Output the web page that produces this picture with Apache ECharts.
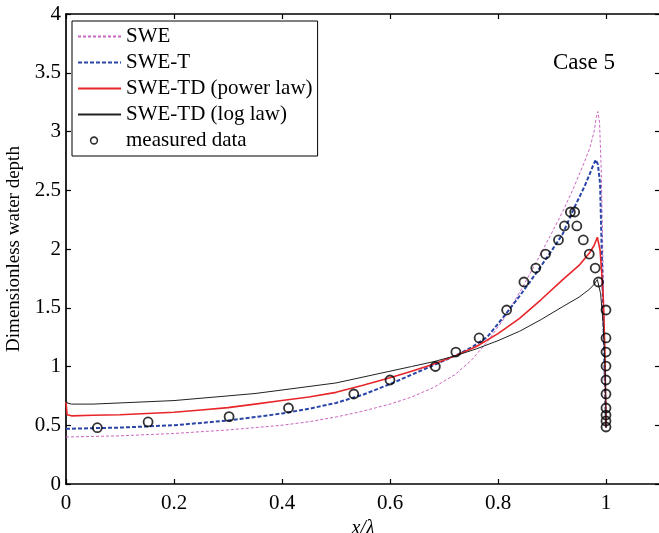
<!DOCTYPE html>
<html>
<head>
<meta charset="utf-8">
<script src="https://cdn.jsdelivr.net/npm/echarts/dist/echarts.min.js"></script>
<style>html,body{margin:0;padding:0;background:#fff}#c{width:659px;height:533px}</style>
</head>
<body>
<div id="c"></div>
<script>
// ---- data ----
const sweX = [0, 0.05, 0.1, 0.15, 0.2, 0.25, 0.3, 0.35, 0.4, 0.45, 0.5, 0.55, 0.6, 0.64, 0.68, 0.72, 0.75, 0.78, 0.81, 0.84, 0.87, 0.9, 0.92, 0.94, 0.96, 0.97, 0.978, 0.982, 0.985, 0.988, 0.991, 0.994, 0.997, 1.0];
const sweY = [0.40, 0.405, 0.41, 0.42, 0.43, 0.445, 0.46, 0.48, 0.50, 0.53, 0.57, 0.62, 0.68, 0.74, 0.82, 0.93, 1.05, 1.21, 1.40, 1.63, 1.88, 2.14, 2.32, 2.52, 2.74, 2.86, 3.00, 3.12, 3.17, 3.08, 2.70, 2.00, 1.20, 0.48];

const swetX = [0, 0.05, 0.1, 0.15, 0.2, 0.25, 0.3, 0.35, 0.4, 0.45, 0.5, 0.55, 0.6, 0.64, 0.68, 0.72, 0.75, 0.78, 0.81, 0.84, 0.87, 0.9, 0.92, 0.94, 0.96, 0.97, 0.976, 0.981, 0.985, 0.989, 0.992, 0.995, 0.998, 1.0];
const swetY = [0.47, 0.475, 0.48, 0.49, 0.50, 0.52, 0.54, 0.57, 0.60, 0.64, 0.69, 0.76, 0.85, 0.93, 1.01, 1.09, 1.16, 1.25, 1.42, 1.60, 1.79, 1.99, 2.13, 2.34, 2.53, 2.64, 2.71, 2.76, 2.72, 2.56, 2.00, 1.42, 0.85, 0.48];

const powX = [0, 0.002, 0.01, 0.05, 0.1, 0.15, 0.2, 0.25, 0.3, 0.35, 0.4, 0.45, 0.5, 0.55, 0.6, 0.64, 0.68, 0.72, 0.76, 0.8, 0.84, 0.88, 0.92, 0.95, 0.97, 0.978, 0.984, 0.989, 0.992, 0.995, 0.998, 1.0];
const powY = [0.70, 0.59, 0.58, 0.585, 0.59, 0.60, 0.61, 0.63, 0.65, 0.68, 0.71, 0.74, 0.78, 0.84, 0.905, 0.96, 1.02, 1.09, 1.17, 1.28, 1.41, 1.57, 1.74, 1.86, 1.97, 2.03, 2.10, 1.99, 1.80, 1.57, 1.14, 0.48];

const logX = [0, 0.002, 0.01, 0.05, 0.1, 0.15, 0.2, 0.25, 0.3, 0.35, 0.4, 0.45, 0.5, 0.55, 0.6, 0.64, 0.68, 0.72, 0.76, 0.8, 0.84, 0.88, 0.92, 0.95, 0.97, 0.978, 0.984, 0.99, 0.995, 0.999, 1.0];
const logY = [0.72, 0.69, 0.68, 0.68, 0.69, 0.70, 0.71, 0.73, 0.75, 0.77, 0.80, 0.83, 0.86, 0.91, 0.96, 1.00, 1.04, 1.09, 1.15, 1.22, 1.30, 1.40, 1.51, 1.59, 1.66, 1.70, 1.74, 1.62, 1.35, 0.90, 0.48];

const measX = [0.058, 0.152, 0.302, 0.412, 0.533, 0.600, 0.684, 0.722, 0.765, 0.816, 0.848, 0.870, 0.888, 0.912, 0.923, 0.934, 0.942, 0.946, 0.958, 0.969, 0.980, 0.986, 1.0, 1.0, 1.0, 1.0, 1.0, 1.0, 1.0, 1.0, 1.0, 1.0];
const measY = [0.479, 0.528, 0.573, 0.647, 0.766, 0.885, 1.000, 1.123, 1.243, 1.481, 1.719, 1.838, 1.957, 2.077, 2.196, 2.315, 2.315, 2.196, 2.077, 1.957, 1.838, 1.719, 1.481, 1.243, 1.123, 1.004, 0.885, 0.766, 0.647, 0.587, 0.536, 0.485];

const seriesNames = ['SWE', 'SWE-T', 'SWE-TD (power law)', 'SWE-TD (log law)', 'measured data'];
const xRange = [0, 1.1];
const yRange = [0, 4];
const xStep = 0.2;
const yStep = 0.5;
const xName = 'x/\u03bb';
const yName = 'Dimensionless water depth';
const caseLabel = 'Case 5';

// ---- helpers ----
const zip = (a, b) => a.map((v, i) => [v, b[i]]);
const FONT = '"Liberation Serif", "Times New Roman", serif';

const circleSvg = "<svg xmlns='http://www.w3.org/2000/svg' width='43' height='14'><circle cx='16' cy='7' r='3.4' fill='none' stroke='black' stroke-width='1.6'/></svg>";
const circleIcon = 'image://data:image/svg+xml;charset=utf-8,' + encodeURIComponent(circleSvg);

const chart = echarts.init(document.getElementById('c'), null, {renderer: 'canvas'});

const axisCommon = {
  type: 'value',
  splitLine: {show: false},
  axisLine: {show: true, onZero: false, lineStyle: {color: '#000', width: 1.7}},
  axisTick: {show: true, inside: true, length: 5, lineStyle: {color: '#000', width: 1.2}},
};

const lineSeries = (name, xs, ys, color, width, type, z) => ({
  name, type: 'line', data: zip(xs, ys), showSymbol: false, symbol: 'none',
  smooth: false,
  lineStyle: {color, width, type}, itemStyle: {color}, z
});

const hidden = {opacity: 0};

const option = {
  animation: false,
  backgroundColor: '#fff',
  grid: {left: 66, top: 14, width: 594, height: 470, containLabel: false, outerBoundsMode: 'none'},
  xAxis: [
    Object.assign({}, axisCommon, {
      position: 'bottom', min: xRange[0], max: xRange[1], interval: xStep,
      name: xName, nameLocation: 'middle', nameGap: 21,
      nameTextStyle: {fontFamily: FONT, fontSize: 20, fontStyle: 'italic', color: '#000'},
      axisLabel: {showMaxLabel: false, margin: 9, color: '#000', fontFamily: FONT, fontSize: 21}
    }),
    Object.assign({}, axisCommon, {
      position: 'top', min: xRange[0], max: xRange[1], interval: xStep,
      axisLabel: {show: false}
    })
  ],
  yAxis: [
    Object.assign({}, axisCommon, {
      position: 'left', min: yRange[0], max: yRange[1], interval: yStep,
      name: yName, nameLocation: 'middle', nameGap: 33,
      nameTextStyle: {fontFamily: FONT, fontSize: 19, color: '#000'},
      axisLabel: {margin: 5, color: '#000', fontFamily: FONT, fontSize: 21}
    }),
    Object.assign({}, axisCommon, {
      position: 'right', min: yRange[0], max: yRange[1], interval: yStep,
      axisLabel: {show: false}
    })
  ],
  legend: {
    show: true,
    orient: 'vertical',
    left: 72, top: 21,
    padding: [5, 5, 5, 5],
    itemWidth: 43, itemHeight: 14, itemGap: 5,
    borderColor: '#000', borderWidth: 1,
    backgroundColor: '#fff',
    textStyle: {fontFamily: FONT, fontSize: 21, color: '#000'},
    data: [
      {name: seriesNames[0], itemStyle: hidden},
      {name: seriesNames[1], itemStyle: hidden},
      {name: seriesNames[2], itemStyle: hidden},
      {name: seriesNames[3], itemStyle: hidden},
      {name: seriesNames[4], icon: circleIcon}
    ],
    selectedMode: false
  },
  graphic: [{
    type: 'text', left: 553, top: 51,
    style: {text: caseLabel, font: '23px ' + FONT, fill: '#000'}
  }],
  series: [
    lineSeries(seriesNames[0], sweX, sweY, '#cc66c0', 1, [3, 2], 2),
    lineSeries(seriesNames[1], swetX, swetY, '#2a44a8', 2, [4, 2], 3),
    lineSeries(seriesNames[2], powX, powY, '#e8262a', 1.6, 'solid', 4),
    lineSeries(seriesNames[3], logX, logY, '#222', 1, 'solid', 5),
    {name: seriesNames[4], type: 'scatter', data: zip(measX, measY), symbol: 'circle', symbolSize: 9,
     itemStyle: {color: 'rgba(255,255,255,0)', borderColor: '#000', borderWidth: 1.8}, z: 6}
  ]
};
chart.setOption(option);
</script>
</body>
</html>
